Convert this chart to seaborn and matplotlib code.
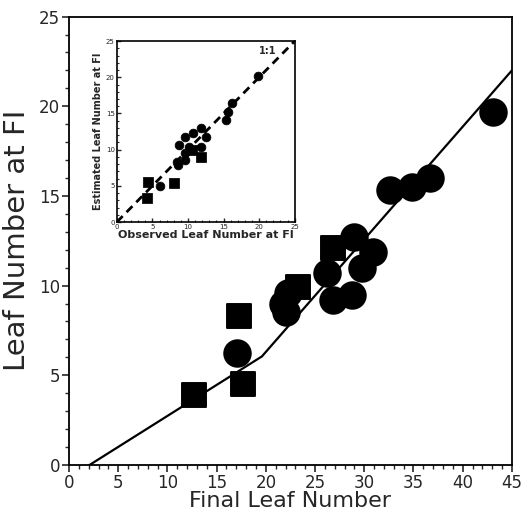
import matplotlib.pyplot as plt
import seaborn as sns
import pandas as pd

# main panel: final leaf number vs leaf number at floral initiation
circ_x = [17.1, 21.7, 22.2, 22.0, 26.2, 26.8, 28.8, 29.8, 30.9, 29.0, 32.6, 34.9, 36.7, 43.1]
circ_y = [6.25, 9.0, 9.6, 8.5, 10.7, 9.2, 9.5, 11.0, 11.9, 12.7, 15.35, 15.5, 16.0, 19.7]
sq_x = [12.7, 17.3, 17.7, 23.3, 26.8]
sq_y = [3.9, 8.3, 4.5, 9.9, 12.1]
line_x = [2.1, 19.6, 45.0]
line_y = [0.0, 6.05, 22.0]

# inset: observed vs estimated
in_circ_x = [19.9, 16.2, 15.6, 15.3, 9.6, 10.7, 11.9, 12.6, 8.8, 10.2, 11.9, 9.6, 9.6, 8.6, 8.4, 6.0]
in_circ_y = [20.2, 16.4, 15.2, 14.1, 11.7, 12.3, 13.0, 11.7, 10.6, 10.4, 10.4, 9.5, 8.6, 7.9, 8.3, 5.0]
in_sq_x = [4.4, 4.2, 8.0, 11.9, 10.5]
in_sq_y = [5.5, 3.3, 5.4, 9.0, 9.9]

sns.set_style('ticks')
plt.rcParams['font.family'] = ['DejaVu Sans']

fig = plt.figure(figsize=(5.31, 5.20), dpi=100)
ax = fig.add_axes([0.130, 0.106, 0.834, 0.862])

sns.lineplot(x=line_x, y=line_y, ax=ax, color='black', lw=1.6)
sns.scatterplot(x=circ_x, y=circ_y, ax=ax, color='black', marker='o', s=360, edgecolor='black')
sns.scatterplot(x=sq_x, y=sq_y, ax=ax, color='black', marker='s', s=300, edgecolor='black')

ax.set_xlim(0, 45)
ax.set_ylim(0, 25)
ax.set_xticks(range(0, 46, 5))
ax.set_yticks(range(0, 26, 5))
ax.set_xticks(range(0, 46), minor=True)
ax.set_yticks(range(0, 26), minor=True)
ax.tick_params(which='major', length=5, width=1.2, labelsize=12, direction='out', pad=1.5)
ax.tick_params(which='minor', length=3, width=1, direction='out')
for s in ax.spines.values():
    s.set_linewidth(1.3)
    s.set_color('black')
ax.set_xlabel('Final Leaf Number', fontsize=16)
ax.xaxis.set_label_coords(0.5, -0.059)
ax.set_ylabel('Leaf Number at FI', fontsize=21)
ax.yaxis.set_label_coords(-0.085, 0.5)

# inset
ins = fig.add_axes([0.220, 0.573, 0.335, 0.348])
sns.lineplot(x=[0, 25], y=[0, 25], ax=ins, color='black', lw=2, linestyle=(0, (3, 2)))
sns.scatterplot(x=in_circ_x, y=in_circ_y, ax=ins, color='black', marker='o', s=40, edgecolor='black')
sns.scatterplot(x=in_sq_x, y=in_sq_y, ax=ins, color='black', marker='s', s=45, edgecolor='black')
ins.set_xlim(0, 25)
ins.set_ylim(0, 25)
ins.set_xticks(range(0, 26, 5))
ins.set_yticks(range(0, 26, 5))
ins.set_xticks(range(0, 26), minor=True)
ins.set_yticks(range(0, 26), minor=True)
ins.tick_params(which='major', length=3, width=1, labelsize=5, direction='in', pad=1.5)
ins.tick_params(which='minor', length=1.5, width=0.8, direction='in')
for s in ins.spines.values():
    s.set_linewidth(1.2)
    s.set_color('black')
ins.text(21.2, 23.6, '1:1', fontsize=7, fontweight='bold', ha='center', va='center')
ins.set_xlabel('Observed Leaf Number at FI', fontsize=8, fontweight='bold', labelpad=0)
ins.set_ylabel('Estimated Leaf Number at FI', fontsize=7, fontweight='bold', labelpad=2)

fig.savefig('out.png', dpi=100)
